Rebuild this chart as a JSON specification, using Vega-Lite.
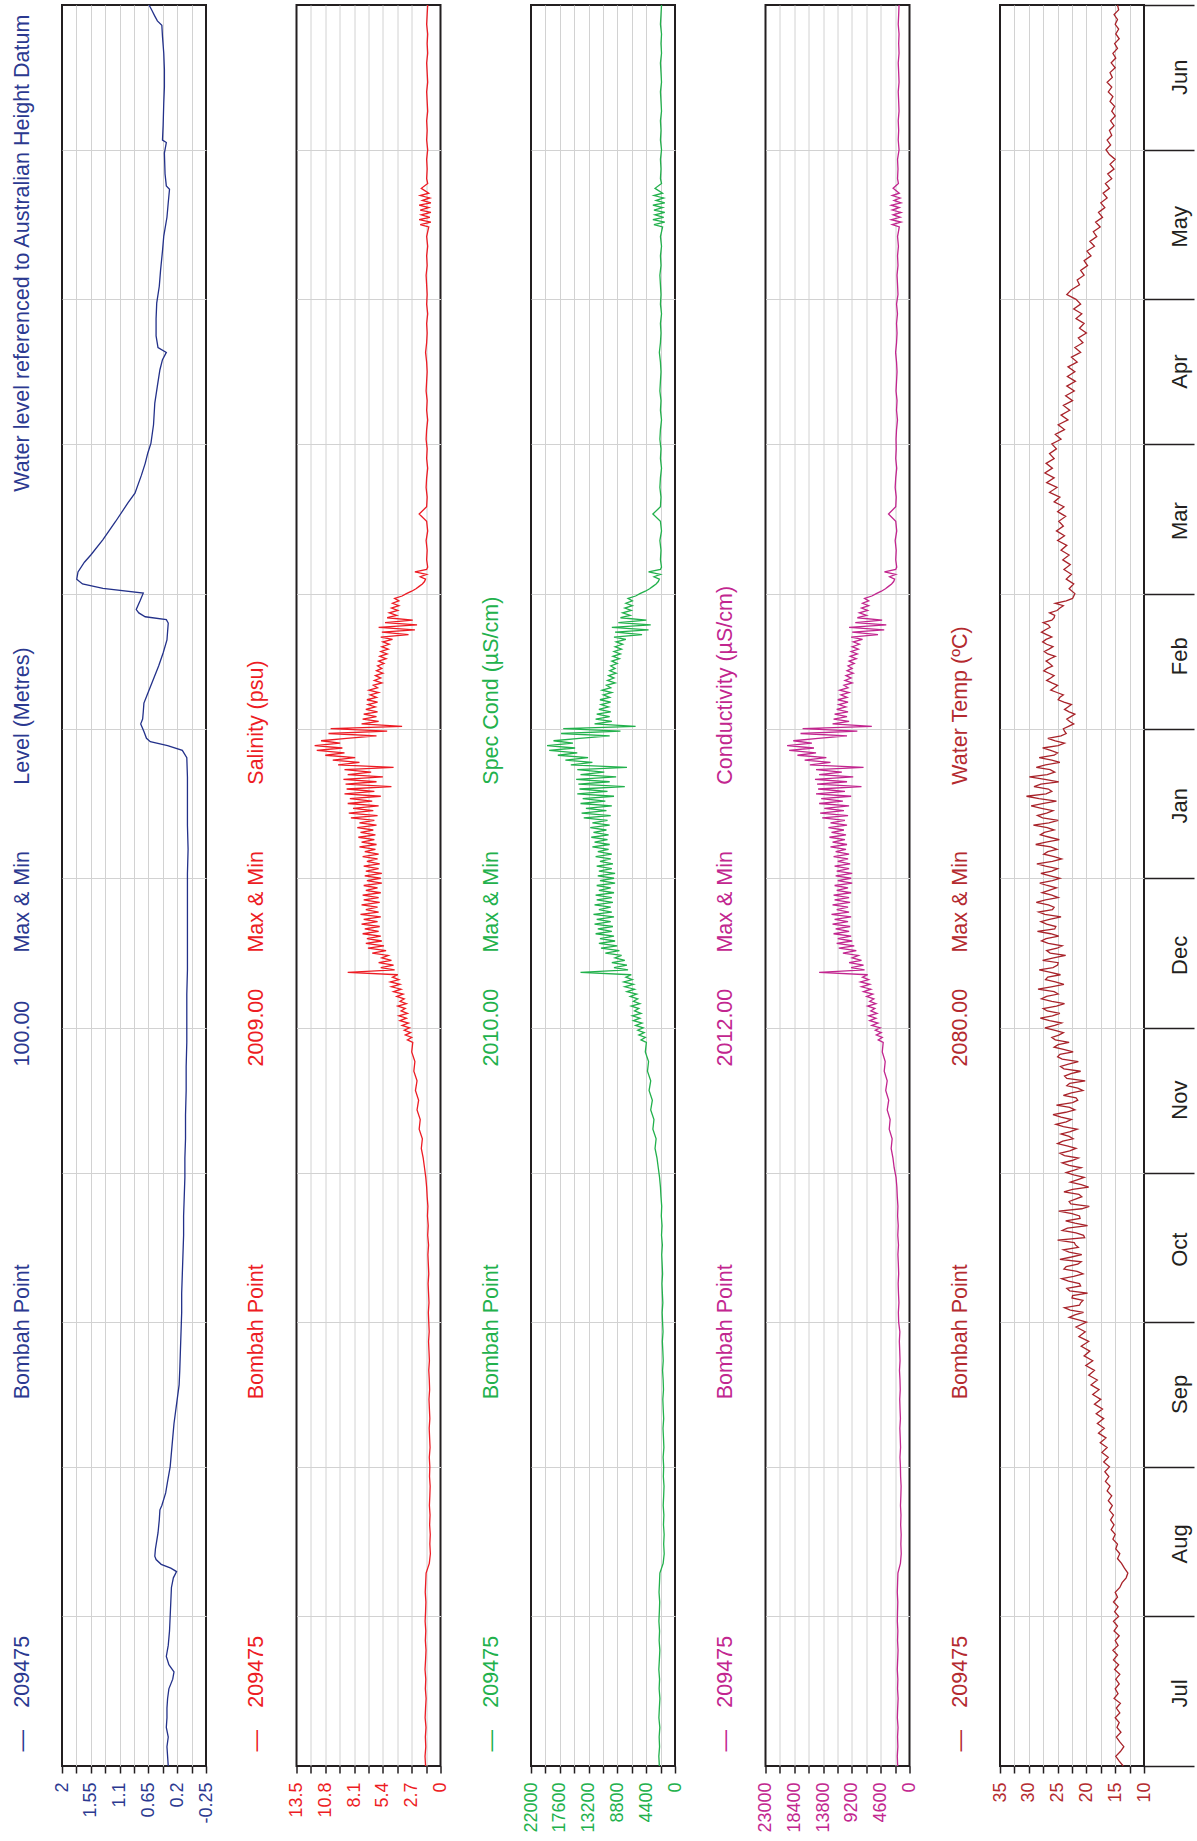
{
"$schema":"https://vega.github.io/schema/vega-lite/v6.json",
"padding":{"left":9,"top":1,"right":0,"bottom":0},
"background":"white",
"config":{"font":"Liberation Sans","view":{"stroke":"#231f20","strokeWidth":2},"axis":{"labelOverlap":false}},
"datasets":{
"lv":[{"d":0,"v":0.34},{"d":2,"v":0.35},{"d":4,"v":0.36},{"d":6,"v":0.34},{"d":8,"v":0.37},{"d":10,"v":0.36},{"d":12,"v":0.36},{"d":14,"v":0.35},{"d":16,"v":0.33},{"d":18,"v":0.27},{"d":19.5,"v":0.25},{"d":21,"v":0.33},{"d":22.7,"v":0.37},{"d":25,"v":0.34},{"d":28,"v":0.32},{"d":31,"v":0.31},{"d":34,"v":0.3},{"d":37,"v":0.29},{"d":39,"v":0.26},{"d":40.3,"v":0.21},{"d":41,"v":0.3},{"d":41.8,"v":0.45},{"d":42.8,"v":0.53},{"d":43.5,"v":0.55},{"d":45,"v":0.54},{"d":48.3,"v":0.5},{"d":51,"v":0.48},{"d":53.1,"v":0.47},{"d":54,"v":0.44},{"d":56.6,"v":0.38},{"d":59,"v":0.35},{"d":62,"v":0.31},{"d":65,"v":0.29},{"d":68,"v":0.27},{"d":71,"v":0.25},{"d":75,"v":0.21},{"d":79,"v":0.17},{"d":82,"v":0.16},{"d":86,"v":0.15},{"d":90,"v":0.14},{"d":94,"v":0.13},{"d":98,"v":0.13},{"d":102,"v":0.12},{"d":106,"v":0.11},{"d":110,"v":0.1},{"d":114,"v":0.1},{"d":118,"v":0.09},{"d":122,"v":0.08},{"d":126,"v":0.08},{"d":130,"v":0.07},{"d":135,"v":0.07},{"d":140,"v":0.06},{"d":145,"v":0.06},{"d":150,"v":0.05},{"d":155,"v":0.05},{"d":160,"v":0.05},{"d":165,"v":0.04},{"d":170,"v":0.04},{"d":175,"v":0.04},{"d":180,"v":0.04},{"d":185,"v":0.04},{"d":190,"v":0.03},{"d":195,"v":0.04},{"d":200,"v":0.04},{"d":205,"v":0.04},{"d":209,"v":0.05},{"d":210.5,"v":0.12},{"d":211.5,"v":0.35},{"d":212.3,"v":0.62},{"d":213,"v":0.68},{"d":214.4,"v":0.72},{"d":216,"v":0.77},{"d":217,"v":0.74},{"d":218.5,"v":0.73},{"d":220.3,"v":0.72},{"d":222,"v":0.67},{"d":225,"v":0.58},{"d":228,"v":0.49},{"d":230.7,"v":0.42},{"d":233.4,"v":0.36},{"d":236.9,"v":0.34},{"d":237.6,"v":0.37},{"d":238.2,"v":0.7},{"d":239,"v":0.8},{"d":239.7,"v":0.84},{"d":241.5,"v":0.78},{"d":243.1,"v":0.73},{"d":244.1,"v":1.36},{"d":245,"v":1.68},{"d":246,"v":1.77},{"d":247.5,"v":1.75},{"d":249.5,"v":1.65},{"d":251,"v":1.55},{"d":254.2,"v":1.36},{"d":258,"v":1.16},{"d":261.8,"v":0.97},{"d":263.8,"v":0.86},{"d":267.5,"v":0.76},{"d":270,"v":0.7},{"d":272.1,"v":0.66},{"d":274.2,"v":0.61},{"d":278,"v":0.57},{"d":282.5,"v":0.55},{"d":286,"v":0.51},{"d":289.4,"v":0.47},{"d":291.5,"v":0.43},{"d":293,"v":0.37},{"d":294,"v":0.5},{"d":296.4,"v":0.53},{"d":300,"v":0.53},{"d":303.2,"v":0.52},{"d":306.7,"v":0.48},{"d":310,"v":0.46},{"d":314,"v":0.43},{"d":317.1,"v":0.41},{"d":321,"v":0.36},{"d":324,"v":0.34},{"d":326.8,"v":0.32},{"d":327.5,"v":0.37},{"d":330,"v":0.39},{"d":334.3,"v":0.4},{"d":336.5,"v":0.37},{"d":337,"v":0.43},{"d":340,"v":0.42},{"d":344.7,"v":0.41},{"d":348,"v":0.4},{"d":351.6,"v":0.4},{"d":355,"v":0.41},{"d":358.5,"v":0.43},{"d":360.8,"v":0.44},{"d":361.7,"v":0.51},{"d":362.7,"v":0.55},{"d":364,"v":0.6},{"d":365,"v":0.64}],
"q":[{"d":0,"s":1.4,"c":2390,"k":1890},{"d":2,"s":1.45,"c":2470,"k":1950},{"d":4,"s":1.38,"c":2360,"k":1860},{"d":6,"s":1.42,"c":2420,"k":1910},{"d":8,"s":1.36,"c":2320,"k":1830},{"d":10,"s":1.44,"c":2460,"k":1940},{"d":12,"s":1.4,"c":2390,"k":1890},{"d":14,"s":1.35,"c":2310,"k":1820},{"d":16,"s":1.42,"c":2420,"k":1910},{"d":18,"s":1.38,"c":2360,"k":1860},{"d":20,"s":1.45,"c":2470,"k":1950},{"d":22,"s":1.4,"c":2390,"k":1890},{"d":24,"s":1.36,"c":2320,"k":1830},{"d":26,"s":1.42,"c":2420,"k":1910},{"d":28,"s":1.38,"c":2360,"k":1860},{"d":30,"s":1.44,"c":2460,"k":1940},{"d":32,"s":1.4,"c":2390,"k":1910},{"d":34,"s":1.37,"c":2340,"k":1870},{"d":36,"s":1.43,"c":2440,"k":1950},{"d":38,"s":1.39,"c":2370,"k":1900},{"d":40,"s":1.35,"c":2310,"k":1850},{"d":42,"s":1.05,"c":1810,"k":1450},{"d":44,"s":0.95,"c":1650,"k":1320},{"d":46,"s":1.0,"c":1730,"k":1380},{"d":48,"s":0.96,"c":1660,"k":1330},{"d":50,"s":1.02,"c":1760,"k":1410},{"d":52,"s":0.98,"c":1700,"k":1360},{"d":54,"s":1.04,"c":1800,"k":1440},{"d":56,"s":1.0,"c":1730,"k":1380},{"d":58,"s":0.97,"c":1680,"k":1340},{"d":60,"s":1.03,"c":1780,"k":1420},{"d":62,"s":1.0,"c":1730,"k":1450},{"d":64,"s":1.05,"c":1810,"k":1520},{"d":66,"s":0.98,"c":1700,"k":1430},{"d":68,"s":1.02,"c":1760,"k":1480},{"d":70,"s":1.06,"c":1830,"k":1540},{"d":72,"s":1.0,"c":1730,"k":1450},{"d":74,"s":1.04,"c":1800,"k":1510},{"d":76,"s":1.08,"c":1860,"k":1560},{"d":78,"s":1.02,"c":1760,"k":1480},{"d":80,"s":1.05,"c":1810,"k":1520},{"d":82,"s":1.1,"c":1900,"k":1600},{"d":84,"s":1.04,"c":1800,"k":1510},{"d":86,"s":1.08,"c":1860,"k":1560},{"d":88,"s":1.12,"c":1930,"k":1620},{"d":90,"s":1.06,"c":1830,"k":1540},{"d":92,"s":1.1,"c":1900,"k":1730},{"d":94,"s":1.14,"c":1960,"k":1780},{"d":96,"s":1.08,"c":1860,"k":1690},{"d":98,"s":1.12,"c":1930,"k":1760},{"d":100,"s":1.16,"c":1990,"k":1810},{"d":102,"s":1.1,"c":1900,"k":1730},{"d":104,"s":1.14,"c":1960,"k":1780},{"d":106,"s":1.18,"c":2030,"k":1850},{"d":108,"s":1.12,"c":1930,"k":1760},{"d":110,"s":1.2,"c":2060,"k":1870},{"d":112,"s":1.15,"c":1980,"k":1800},{"d":114,"s":1.22,"c":2090,"k":1900},{"d":116,"s":1.18,"c":2030,"k":1850},{"d":118,"s":1.25,"c":2140,"k":1950},{"d":120,"s":1.3,"c":2225,"k":2020},{"d":122,"s":1.38,"c":2360,"k":2150},{"d":124,"s":1.5,"c":2555,"k":2450},{"d":126,"s":1.62,"c":2750,"k":2640},{"d":128,"s":1.8,"c":3050,"k":2930},{"d":130,"s":1.7,"c":2885,"k":2770},{"d":132,"s":2.0,"c":3380,"k":3240},{"d":134,"s":1.9,"c":3215,"k":3090},{"d":136,"s":2.2,"c":3710,"k":3560},{"d":138,"s":2.05,"c":3460,"k":3320},{"d":140,"s":2.35,"c":3960,"k":3800},{"d":142,"s":2.2,"c":3710,"k":3560},{"d":144,"s":2.5,"c":4205,"k":4040},{"d":146,"s":2.4,"c":4040,"k":3880},{"d":148,"s":2.7,"c":4535,"k":4350},{"d":150,"s":2.6,"c":4370,"k":4200},
{"d":150.5,"s":3.1,"c":5195,"k":4990},{"d":151,"s":2.7,"c":4535,"k":4350},{"d":151.5,"s":3.3,"c":5525,"k":5300},{"d":152,"s":2.8,"c":4700,"k":4510},{"d":152.5,"s":3.4,"c":5690,"k":5460},{"d":153,"s":2.9,"c":4865,"k":4670},{"d":153.5,"s":3.6,"c":6020,"k":6020},{"d":154,"s":3.0,"c":5030,"k":5030},{"d":154.5,"s":3.8,"c":6350,"k":6350},{"d":155,"s":3.2,"c":5360,"k":5360},{"d":155.5,"s":3.9,"c":6515,"k":6515},{"d":156,"s":3.1,"c":5195,"k":5195},{"d":156.5,"s":3.7,"c":6185,"k":6185},{"d":157,"s":3.3,"c":5525,"k":5525},{"d":157.5,"s":4.0,"c":6680,"k":6680},{"d":158,"s":3.2,"c":5360,"k":5360},{"d":158.5,"s":3.8,"c":6350,"k":6350},{"d":159,"s":3.4,"c":5690,"k":5690},{"d":159.5,"s":4.1,"c":6845,"k":6845},{"d":160,"s":3.5,"c":5855,"k":5855},{"d":160.5,"s":4.4,"c":7340,"k":7340},{"d":161,"s":3.7,"c":6185,"k":6185},{"d":161.5,"s":4.6,"c":7670,"k":7670},{"d":162,"s":3.8,"c":6350,"k":6350},{"d":162.5,"s":4.7,"c":7835,"k":7835},{"d":163,"s":3.9,"c":6515,"k":6515},{"d":163.5,"s":4.5,"c":7505,"k":7505},{"d":164,"s":4.0,"c":6680,"k":6680},{"d":164.5,"s":8.7,"c":14435,"k":14435},{"d":165,"s":4.3,"c":7175,"k":7175},{"d":165.5,"s":5.6,"c":9320,"k":9320},{"d":166,"s":4.4,"c":7340,"k":7340},{"d":166.5,"s":5.8,"c":9650,"k":9650},{"d":167,"s":4.6,"c":7670,"k":7670},{"d":167.5,"s":5.5,"c":9155,"k":9155},{"d":168,"s":4.9,"c":8165,"k":8165},{"d":168.5,"s":6.4,"c":10640,"k":10640},{"d":169,"s":5.1,"c":8495,"k":8495},{"d":169.5,"s":6.8,"c":11300,"k":11300},{"d":170,"s":5.3,"c":8825,"k":8825},{"d":170.5,"s":7.0,"c":11630,"k":11630},{"d":171,"s":5.5,"c":9155,"k":9155},{"d":171.5,"s":6.9,"c":11465,"k":11465},{"d":172,"s":5.6,"c":9320,"k":9320},{"d":172.5,"s":7.3,"c":12125,"k":12125},{"d":173,"s":5.8,"c":9650,"k":9650},{"d":173.5,"s":7.1,"c":11795,"k":11795},{"d":174,"s":5.7,"c":9485,"k":9485},{"d":174.5,"s":7.4,"c":12290,"k":12290},{"d":175,"s":5.9,"c":9815,"k":9815},{"d":175.5,"s":7.2,"c":11960,"k":11960},{"d":176,"s":5.6,"c":9320,"k":9320},{"d":176.5,"s":7.5,"c":12455,"k":12455},{"d":177,"s":5.8,"c":9650,"k":9650},{"d":177.5,"s":7.0,"c":11630,"k":11630},{"d":178,"s":5.9,"c":9815,"k":9815},{"d":178.5,"s":7.4,"c":12290,"k":12290},{"d":179,"s":5.7,"c":9485,"k":9485},{"d":179.5,"s":7.2,"c":11960,"k":11960},{"d":180,"s":5.8,"c":9650,"k":9650},{"d":180.5,"s":7.3,"c":12125,"k":12125},{"d":181,"s":5.6,"c":9320,"k":9320},{"d":181.5,"s":7.0,"c":11630,"k":11630},{"d":182,"s":5.9,"c":9815,"k":9815},{"d":182.5,"s":7.2,"c":11960,"k":11960},{"d":183,"s":5.5,"c":9155,"k":9155},{"d":183.5,"s":6.9,"c":11465,"k":11465},{"d":184,"s":5.6,"c":9320,"k":9320},{"d":184.5,"s":7.1,"c":11795,"k":11795},{"d":185,"s":5.5,"c":9155,"k":9155},{"d":185.5,"s":7.0,"c":11630,"k":11630},{"d":186,"s":5.8,"c":9650,"k":9650},{"d":186.5,"s":7.2,"c":11960,"k":11960},{"d":187,"s":5.7,"c":9485,"k":9485},{"d":187.5,"s":6.9,"c":11465,"k":11465},{"d":188,"s":5.9,"c":9815,"k":9815},{"d":188.5,"s":7.3,"c":12125,"k":12125},{"d":189,"s":5.8,"c":9650,"k":9650},{"d":189.5,"s":7.1,"c":11795,"k":11795},{"d":190,"s":6.1,"c":10145,"k":10145},{"d":190.5,"s":7.6,"c":12620,"k":12620},{"d":191,"s":6.0,"c":9980,"k":9980},{"d":191.5,"s":7.4,"c":12290,"k":12290},{"d":192,"s":6.2,"c":10310,"k":10310},{"d":192.5,"s":7.7,"c":12785,"k":12785},{"d":193,"s":6.1,"c":10145,"k":10145},{"d":193.5,"s":7.5,"c":12455,"k":12455},{"d":194,"s":6.3,"c":10475,"k":10475},{"d":194.5,"s":7.8,"c":12950,"k":12950},{"d":195,"s":6.0,"c":9980,"k":9980},{"d":195.5,"s":7.6,"c":12620,"k":12620},{"d":196,"s":6.2,"c":10310,"k":10310},{"d":196.5,"s":8.4,"c":13940,"k":13940},{"d":197,"s":5.9,"c":9815,"k":9815},{"d":197.5,"s":8.6,"c":14270,"k":14270},{"d":198,"s":6.3,"c":10475,"k":10475},{"d":198.5,"s":8.2,"c":13610,"k":13610},{"d":199,"s":5.8,"c":9650,"k":9650},{"d":199.5,"s":8.7,"c":14435,"k":14435},{"d":200,"s":6.4,"c":10640,"k":10640},{"d":200.5,"s":8.5,"c":14105,"k":14105},{"d":201,"s":5.6,"c":9320,"k":9320},{"d":201.5,"s":9.0,"c":14930,"k":14930},{"d":202,"s":6.2,"c":10310,"k":10310},{"d":202.5,"s":8.8,"c":14600,"k":14600},{"d":203,"s":4.6,"c":7670,"k":7670},{"d":203.5,"s":8.9,"c":14765,"k":14765},{"d":204,"s":6.0,"c":9980,"k":9980},{"d":204.5,"s":9.1,"c":15095,"k":15095},{"d":205,"s":5.4,"c":8990,"k":8990},{"d":205.5,"s":8.7,"c":14435,"k":14435},{"d":206,"s":6.5,"c":10805,"k":10805},{"d":206.5,"s":9.0,"c":14930,"k":14930},{"d":207,"s":4.4,"c":7340,"k":7340},{"d":207.5,"s":9.6,"c":15920,"k":15920},{"d":208,"s":7.6,"c":12620,"k":12620},{"d":208.5,"s":10.1,"c":16745,"k":16745},{"d":209,"s":8.0,"c":13280,"k":13280},{"d":209.5,"s":10.8,"c":17900,"k":17900},{"d":210,"s":9.0,"c":14930,"k":14930},{"d":210.5,"s":11.6,"c":19220,"k":19220},{"d":211,"s":9.2,"c":15260,"k":15260},{"d":211.5,"s":11.8,"c":19550,"k":19550},{"d":212,"s":9.4,"c":15590,"k":15590},{"d":212.5,"s":11.2,"c":18560,"k":18560},{"d":213,"s":8.8,"c":14600,"k":14600},{"d":213.5,"s":6.0,"c":9980,"k":9980},{"d":214,"s":10.5,"c":17405,"k":17405},{"d":214.5,"s":5.0,"c":8330,"k":8330},{"d":215,"s":10.3,"c":17075,"k":17075},{"d":215.5,"s":3.6,"c":6020,"k":6020},{"d":216,"s":7.4,"c":12290,"k":12290},{"d":216.5,"s":5.8,"c":9650,"k":9650},{"d":217,"s":7.3,"c":12125,"k":12125},{"d":217.5,"s":6.0,"c":9980,"k":9980},{"d":218,"s":7.2,"c":11960,"k":11960},{"d":218.5,"s":5.9,"c":9815,"k":9815},{"d":219,"s":7.0,"c":11630,"k":11630},{"d":219.5,"s":6.1,"c":10145,"k":10145},{"d":220,"s":6.8,"c":11300,"k":11300},{"d":220.5,"s":5.9,"c":9815,"k":9815},{"d":221,"s":6.9,"c":11465,"k":11465},{"d":221.5,"s":6.0,"c":9980,"k":9980},{"d":222,"s":6.6,"c":10970,"k":10970},{"d":222.5,"s":5.8,"c":9650,"k":9650},{"d":223,"s":6.7,"c":11135,"k":11135},{"d":223.5,"s":5.9,"c":9815,"k":9815},{"d":224,"s":6.3,"c":10475,"k":10475},{"d":224.5,"s":5.5,"c":9155,"k":9155},{"d":225,"s":6.2,"c":10310,"k":10310},{"d":225.5,"s":5.6,"c":9320,"k":9320},{"d":226,"s":6.1,"c":10145,"k":10145},{"d":226.5,"s":5.4,"c":8990,"k":8990},{"d":227,"s":6.0,"c":9980,"k":9980},{"d":227.5,"s":5.5,"c":9155,"k":9155},{"d":228,"s":5.9,"c":9815,"k":9815},{"d":228.5,"s":5.3,"c":8825,"k":8825},{"d":229,"s":5.8,"c":9650,"k":9650},{"d":229.5,"s":5.1,"c":8495,"k":8495},{"d":230,"s":5.7,"c":9485,"k":9485},{"d":230.5,"s":5.0,"c":8330,"k":8330},{"d":231,"s":5.6,"c":9320,"k":9320},{"d":231.5,"s":4.9,"c":8165,"k":8165},{"d":232,"s":5.5,"c":9155,"k":9155},{"d":232.5,"s":4.8,"c":8000,"k":8000},{"d":233,"s":5.4,"c":8990,"k":8990},{"d":233.5,"s":4.5,"c":7505,"k":7505},{"d":234,"s":5.6,"c":9320,"k":9320},{"d":234.5,"s":3.0,"c":5030,"k":5030},{"d":235,"s":5.5,"c":9155,"k":9155},{"d":235.5,"s":2.4,"c":4040,"k":4040},{"d":236,"s":5.8,"c":9650,"k":9650},{"d":236.5,"s":2.2,"c":3710,"k":3710},{"d":237,"s":5.2,"c":8660,"k":8660},{"d":237.5,"s":2.6,"c":4370,"k":4370},{"d":238,"s":5.0,"c":8330,"k":8330},{"d":238.5,"s":4.1,"c":6845,"k":6845},{"d":239,"s":4.8,"c":8000,"k":8000},{"d":239.5,"s":4.0,"c":6680,"k":6680},{"d":240,"s":4.6,"c":7670,"k":7670},{"d":240.5,"s":3.9,"c":6515,"k":6515},{"d":241,"s":4.5,"c":7505,"k":7505},{"d":241.5,"s":3.9,"c":6515,"k":6515},{"d":242,"s":4.3,"c":7175,"k":7175},{"d":242.5,"s":3.6,"c":6020,"k":6020},{"d":243,"s":3.2,"c":5360,"k":5310},{"d":243.5,"s":2.7,"c":4535,"k":4490},{"d":244,"s":2.3,"c":3875,"k":3840},{"d":244.5,"s":2.0,"c":3380,"k":3350},{"d":245,"s":1.7,"c":2885,"k":2860},{"d":245.5,"s":1.5,"c":2555,"k":2530},{"d":246,"s":1.4,"c":2390,"k":2370},{"d":246.5,"s":1.9,"c":3215,"k":3180},{"d":247,"s":1.3,"c":2225,"k":2200},{"d":247.5,"s":2.4,"c":4040,"k":4000},{"d":248,"s":1.3,"c":2225,"k":2200},{"d":248.5,"s":1.2,"c":2060,"k":2040},
{"d":250,"s":1.3,"c":2225,"k":2200},{"d":252,"s":1.25,"c":2140,"k":2120},{"d":254,"s":1.35,"c":2310,"k":2290},{"d":256,"s":1.2,"c":2060,"k":2040},{"d":258,"s":1.3,"c":2225,"k":2200},{"d":259.5,"s":2.0,"c":3380,"k":3350},{"d":261,"s":1.3,"c":2225,"k":2200},{"d":263,"s":1.25,"c":2140,"k":2120},{"d":265,"s":1.35,"c":2310,"k":2290},{"d":267,"s":1.3,"c":2225,"k":2200},{"d":269,"s":1.2,"c":2060,"k":2040},{"d":271,"s":1.3,"c":2225,"k":2200},{"d":273,"s":1.25,"c":2140,"k":2120},{"d":275,"s":1.35,"c":2310,"k":2150},{"d":277,"s":1.3,"c":2225,"k":2070},{"d":279,"s":1.2,"c":2060,"k":1920},{"d":281,"s":1.3,"c":2225,"k":2070},{"d":283,"s":1.25,"c":2140,"k":1990},{"d":285,"s":1.35,"c":2310,"k":2150},{"d":287,"s":1.3,"c":2225,"k":2070},{"d":289,"s":1.25,"c":2140,"k":1990},{"d":291,"s":1.3,"c":2225,"k":2070},{"d":293,"s":1.4,"c":2390,"k":2220},{"d":295,"s":1.3,"c":2225,"k":2070},{"d":297,"s":1.25,"c":2140,"k":1990},{"d":299,"s":1.3,"c":2225,"k":2070},{"d":301,"s":1.2,"c":2060,"k":1920},{"d":303,"s":1.3,"c":2225,"k":2070},{"d":305,"s":1.25,"c":2140,"k":1840},{"d":307,"s":1.3,"c":2225,"k":1910},{"d":309,"s":1.35,"c":2310,"k":1990},{"d":311,"s":1.25,"c":2140,"k":1840},{"d":313,"s":1.3,"c":2225,"k":1910},{"d":315,"s":1.2,"c":2060,"k":1770},{"d":317,"s":1.3,"c":2225,"k":1910},{"d":319,"s":1.1,"c":1895,"k":1630},{"d":319.5,"s":1.9,"c":3215,"k":2760},{"d":320,"s":0.9,"c":1565,"k":1350},{"d":320.5,"s":2.0,"c":3380,"k":2910},{"d":321,"s":1.0,"c":1730,"k":1490},{"d":321.5,"s":1.8,"c":3050,"k":2620},{"d":322,"s":0.9,"c":1565,"k":1350},{"d":322.5,"s":1.9,"c":3215,"k":2760},{"d":323,"s":1.1,"c":1895,"k":1630},{"d":323.5,"s":2.0,"c":3380,"k":2910},{"d":324,"s":0.9,"c":1565,"k":1350},{"d":324.5,"s":1.7,"c":2885,"k":2480},{"d":325,"s":1.0,"c":1730,"k":1490},{"d":325.5,"s":1.9,"c":3215,"k":2760},{"d":326,"s":1.1,"c":1895,"k":1630},{"d":327,"s":1.8,"c":3050,"k":2620},{"d":328,"s":1.2,"c":2060,"k":1770},{"d":329,"s":1.3,"c":2225,"k":1910},{"d":331,"s":1.25,"c":2140,"k":1840},{"d":333,"s":1.3,"c":2225,"k":1910},{"d":335,"s":1.2,"c":2060,"k":1670},{"d":337,"s":1.3,"c":2225,"k":1800},{"d":339,"s":1.25,"c":2140,"k":1730},{"d":341,"s":1.3,"c":2225,"k":1800},{"d":343,"s":1.2,"c":2060,"k":1670},{"d":345,"s":1.25,"c":2140,"k":1730},{"d":347,"s":1.3,"c":2225,"k":1800},{"d":349,"s":1.2,"c":2060,"k":1670},{"d":351,"s":1.25,"c":2140,"k":1730},{"d":353,"s":1.3,"c":2225,"k":1800},{"d":355,"s":1.2,"c":2060,"k":1670},{"d":357,"s":1.25,"c":2140,"k":1730},{"d":359,"s":1.2,"c":2060,"k":1670},{"d":361,"s":1.3,"c":2225,"k":1800},{"d":363,"s":1.25,"c":2140,"k":1730},{"d":365,"s":1.2,"c":2060,"k":1670}],
"tp":[{"d":0,"v":13.6},{"d":1,"v":14.3},{"d":2,"v":14.9},{"d":3,"v":14.1},{"d":4,"v":13.5},{"d":5,"v":14.2},{"d":6,"v":14.8},{"d":7,"v":14.0},{"d":8,"v":14.7},{"d":9,"v":14.3},{"d":10,"v":15.0},{"d":11,"v":14.2},{"d":12,"v":14.8},{"d":13,"v":14.1},{"d":14,"v":15.2},{"d":15,"v":14.5},{"d":16,"v":15.0},{"d":17,"v":14.3},{"d":18,"v":14.9},{"d":19,"v":14.2},{"d":20,"v":15.1},{"d":21,"v":14.4},{"d":22,"v":15.3},{"d":23,"v":14.6},{"d":24,"v":15.4},{"d":25,"v":14.5},{"d":26,"v":15.0},{"d":27,"v":14.3},{"d":28,"v":15.2},{"d":29,"v":14.6},{"d":30,"v":15.3},{"d":31,"v":14.4},{"d":32,"v":15.1},{"d":33,"v":14.5},{"d":34,"v":15.3},{"d":35,"v":14.6},{"d":36,"v":15.0},{"d":37,"v":14.2},{"d":38,"v":13.8},{"d":39,"v":13.1},{"d":40,"v":12.8},{"d":41,"v":13.4},{"d":42,"v":13.9},{"d":43,"v":14.6},{"d":44,"v":14.2},{"d":45,"v":14.9},{"d":46,"v":14.6},{"d":47,"v":15.4},{"d":48,"v":15.0},{"d":49,"v":15.7},{"d":50,"v":15.2},{"d":51,"v":15.8},{"d":52,"v":15.3},{"d":53,"v":16.0},{"d":54,"v":15.5},{"d":55,"v":16.2},{"d":56,"v":15.6},{"d":57,"v":16.4},{"d":58,"v":15.9},{"d":59,"v":16.7},{"d":60,"v":16.1},{"d":61,"v":16.8},{"d":62,"v":16.0},{"d":63,"v":17.0},{"d":64,"v":16.2},{"d":65,"v":17.3},{"d":66,"v":16.4},{"d":67,"v":17.6},{"d":68,"v":16.6},{"d":69,"v":17.9},{"d":70,"v":16.9},{"d":71,"v":18.1},{"d":72,"v":17.0},{"d":73,"v":18.3},{"d":74,"v":17.2},{"d":75,"v":18.6},{"d":76,"v":17.5},{"d":77,"v":18.9},{"d":78,"v":17.8},{"d":79,"v":19.2},{"d":80,"v":18.1},{"d":81,"v":19.6},{"d":82,"v":18.6},{"d":83,"v":20.1},{"d":84,"v":18.9},{"d":85,"v":20.4},{"d":86,"v":19.4},{"d":87,"v":20.9},{"d":88,"v":19.6},{"d":89,"v":21.3},{"d":90,"v":20.2},{"d":91,"v":21.8},{"d":92,"v":20.0},{"d":93,"v":23.0},{"d":94,"v":20.5},{"d":95,"v":23.8},{"d":96,"v":21.0},{"d":97,"v":22.5},{"d":98,"v":19.8},{"d":99,"v":23.4},{"d":100,"v":21.2},{"d":101,"v":24.3},{"d":102,"v":20.6},{"d":103,"v":23.9},{"d":104,"v":21.5},{"d":105,"v":24.6},{"d":106,"v":20.8},{"d":107,"v":24.0},{"d":108,"v":21.9},{"d":109,"v":25.0},{"d":110,"v":20.5},{"d":111,"v":24.2},{"d":112,"v":19.8},{"d":113,"v":23.6},{"d":114,"v":21.2},{"d":115,"v":24.8},{"d":116,"v":19.5},{"d":117,"v":23.0},{"d":118,"v":20.8},{"d":119,"v":23.9},{"d":120,"v":19.6},{"d":121,"v":22.8},{"d":122,"v":20.4},{"d":123,"v":23.5},{"d":124,"v":20.9},{"d":125,"v":24.2},{"d":126,"v":21.4},{"d":127,"v":24.6},{"d":128,"v":21.8},{"d":129,"v":25.0},{"d":130,"v":22.3},{"d":131,"v":24.4},{"d":132,"v":21.6},{"d":133,"v":25.3},{"d":134,"v":22.6},{"d":135,"v":25.8},{"d":136,"v":22.0},{"d":137,"v":25.2},{"d":138,"v":21.5},{"d":139,"v":24.0},{"d":140,"v":20.6},{"d":141,"v":23.4},{"d":142,"v":20.2},{"d":143,"v":23.8},{"d":144,"v":21.0},{"d":145,"v":24.5},{"d":146,"v":21.4},{"d":147,"v":25.0},{"d":148,"v":22.3},{"d":149,"v":25.6},{"d":150,"v":23.0},{"d":151,"v":26.0},{"d":152,"v":24.0},{"d":153,"v":27.2},{"d":154,"v":24.3},{"d":155,"v":28.0},{"d":156,"v":24.6},{"d":157,"v":27.5},{"d":158,"v":23.8},{"d":159,"v":27.8},{"d":160,"v":24.9},{"d":161,"v":28.4},{"d":162,"v":23.9},{"d":163,"v":27.1},{"d":164,"v":24.5},{"d":165,"v":28.2},{"d":166,"v":25.0},{"d":167,"v":27.6},{"d":168,"v":23.6},{"d":169,"v":26.9},{"d":170,"v":24.2},{"d":171,"v":27.8},{"d":172,"v":24.8},{"d":173,"v":28.5},{"d":174,"v":25.3},{"d":175,"v":27.9},{"d":176,"v":24.4},{"d":177,"v":28.3},{"d":178,"v":25.6},{"d":179,"v":28.7},{"d":180,"v":24.9},{"d":181,"v":27.7},{"d":182,"v":25.2},{"d":183,"v":28.1},{"d":184,"v":24.6},{"d":185,"v":27.9},{"d":186,"v":25.0},{"d":187,"v":28.6},{"d":188,"v":24.3},{"d":189,"v":27.4},{"d":190,"v":25.1},{"d":191,"v":28.8},{"d":192,"v":24.7},{"d":193,"v":28.0},{"d":194,"v":25.6},{"d":195,"v":29.2},{"d":196,"v":24.9},{"d":197,"v":28.5},{"d":198,"v":25.8},{"d":199,"v":29.6},{"d":200,"v":25.2},{"d":201,"v":30.4},{"d":202,"v":26.0},{"d":203,"v":29.1},{"d":204,"v":24.8},{"d":205,"v":29.9},{"d":206,"v":25.5},{"d":207,"v":28.7},{"d":208,"v":24.6},{"d":209,"v":28.2},{"d":210,"v":25.0},{"d":211,"v":27.6},{"d":212,"v":23.8},{"d":213,"v":26.7},{"d":214,"v":23.5},{"d":215,"v":24.0},{"d":216,"v":22.2},{"d":217,"v":23.4},{"d":218,"v":22.0},{"d":219,"v":23.8},{"d":220,"v":22.6},{"d":221,"v":24.9},{"d":222,"v":24.0},{"d":223,"v":26.2},{"d":224,"v":25.0},{"d":225,"v":26.9},{"d":226,"v":25.6},{"d":227,"v":27.4},{"d":228,"v":25.9},{"d":229,"v":27.0},{"d":230,"v":25.4},{"d":231,"v":27.3},{"d":232,"v":25.8},{"d":233,"v":27.6},{"d":234,"v":26.0},{"d":235,"v":27.8},{"d":236,"v":26.3},{"d":237,"v":27.5},{"d":238,"v":25.6},{"d":239,"v":26.4},{"d":240,"v":24.6},{"d":241,"v":25.4},{"d":242,"v":22.4},{"d":243,"v":22.0},{"d":244,"v":23.0},{"d":245,"v":22.2},{"d":246,"v":23.5},{"d":247,"v":22.6},{"d":248,"v":23.9},{"d":249,"v":22.8},{"d":250,"v":24.1},{"d":251,"v":23.0},{"d":252,"v":24.4},{"d":253,"v":23.4},{"d":254,"v":25.0},{"d":255,"v":23.8},{"d":256,"v":25.2},{"d":257,"v":24.0},{"d":258,"v":24.8},{"d":259,"v":23.6},{"d":260,"v":25.0},{"d":261,"v":23.9},{"d":262,"v":25.6},{"d":263,"v":24.6},{"d":264,"v":26.4},{"d":265,"v":25.1},{"d":266,"v":26.9},{"d":267,"v":25.6},{"d":268,"v":27.2},{"d":269,"v":25.9},{"d":270,"v":27.0},{"d":271,"v":25.6},{"d":272,"v":26.4},{"d":273,"v":25.2},{"d":274,"v":26.0},{"d":275,"v":24.4},{"d":276,"v":25.4},{"d":277,"v":23.8},{"d":278,"v":24.9},{"d":279,"v":23.2},{"d":280,"v":24.4},{"d":281,"v":22.9},{"d":282,"v":24.0},{"d":283,"v":22.4},{"d":284,"v":23.6},{"d":285,"v":22.1},{"d":286,"v":23.4},{"d":287,"v":21.9},{"d":288,"v":23.3},{"d":289,"v":22.0},{"d":290,"v":23.2},{"d":291,"v":21.6},{"d":292,"v":22.6},{"d":293,"v":21.0},{"d":294,"v":22.0},{"d":295,"v":20.6},{"d":296,"v":21.4},{"d":297,"v":20.0},{"d":298,"v":21.2},{"d":299,"v":20.4},{"d":300,"v":21.8},{"d":301,"v":20.8},{"d":302,"v":22.2},{"d":303,"v":21.0},{"d":304,"v":21.8},{"d":305,"v":23.4},{"d":306,"v":22.6},{"d":307,"v":21.2},{"d":308,"v":21.6},{"d":309,"v":20.4},{"d":310,"v":21.0},{"d":311,"v":19.8},{"d":312,"v":20.4},{"d":313,"v":19.2},{"d":314,"v":19.9},{"d":315,"v":18.6},{"d":316,"v":19.4},{"d":317,"v":18.2},{"d":318,"v":18.8},{"d":319,"v":17.6},{"d":320,"v":18.4},{"d":321,"v":17.2},{"d":322,"v":17.9},{"d":323,"v":16.8},{"d":324,"v":17.5},{"d":325,"v":16.4},{"d":326,"v":17.1},{"d":327,"v":16.0},{"d":328,"v":16.7},{"d":329,"v":15.6},{"d":330,"v":16.3},{"d":331,"v":15.2},{"d":332,"v":15.9},{"d":333,"v":15.0},{"d":334,"v":16.0},{"d":335,"v":16.6},{"d":336,"v":15.8},{"d":337,"v":16.4},{"d":338,"v":15.6},{"d":339,"v":16.0},{"d":340,"v":15.2},{"d":341,"v":15.8},{"d":342,"v":15.0},{"d":343,"v":15.6},{"d":344,"v":15.1},{"d":345,"v":15.9},{"d":346,"v":15.4},{"d":347,"v":16.2},{"d":348,"v":15.6},{"d":349,"v":16.4},{"d":350,"v":15.5},{"d":351,"v":15.9},{"d":352,"v":15.0},{"d":353,"v":15.7},{"d":354,"v":14.9},{"d":355,"v":15.4},{"d":356,"v":14.6},{"d":357,"v":15.1},{"d":358,"v":14.3},{"d":359,"v":14.9},{"d":360,"v":14.4},{"d":361,"v":15.0},{"d":362,"v":14.6},{"d":363,"v":15.2},{"d":364,"v":14.4},{"d":365,"v":14.6},
{"d":92.5,"v":21.5},{"d":93.5,"v":22.0},{"d":94.5,"v":22.8},{"d":95.5,"v":21.2},{"d":96.5,"v":20.6},{"d":97.5,"v":22.4},{"d":98.5,"v":22.9},{"d":99.5,"v":21.0},{"d":100.5,"v":23.1},{"d":101.5,"v":22.2},{"d":102.5,"v":21.6},{"d":103.5,"v":23.5},{"d":104.5,"v":20.9},{"d":105.5,"v":22.6},{"d":106.5,"v":23.0},{"d":107.5,"v":21.4},{"d":108.5,"v":22.1},{"d":109.5,"v":20.3},{"d":110.5,"v":21.8},{"d":111.5,"v":23.3},{"d":112.5,"v":22.0},{"d":113.5,"v":21.1},{"d":114.5,"v":22.5},{"d":115.5,"v":20.8},{"d":116.5,"v":22.7},{"d":117.5,"v":21.9},{"d":118.5,"v":21.3},{"d":119.5,"v":22.4},{"d":120.5,"v":20.9},{"d":121.5,"v":21.6},{"d":122.5,"v":22.2},
{"d":123.5,"v":22.1},{"d":124.5,"v":23.0},{"d":125.5,"v":22.5},{"d":126.5,"v":23.8},{"d":127.5,"v":22.9},{"d":128.5,"v":23.2},{"d":129.5,"v":24.1},{"d":130.5,"v":23.0},{"d":131.5,"v":22.8},{"d":132.5,"v":24.0},{"d":133.5,"v":23.5},{"d":134.5,"v":24.4},{"d":135.5,"v":23.6},{"d":136.5,"v":22.9},{"d":137.5,"v":22.4},{"d":138.5,"v":21.8},{"d":139.5,"v":22.6},{"d":140.5,"v":21.5},{"d":141.5,"v":22.9},{"d":142.5,"v":23.4},{"d":143.5,"v":22.7},{"d":144.5,"v":23.9},{"d":145.5,"v":23.1},{"d":146.5,"v":24.2},{"d":147.5,"v":24.6},{"d":148.5,"v":23.8},{"d":149.5,"v":24.9},{"d":150.5,"v":25.4},{"d":151.5,"v":24.8},{"d":152.5,"v":25.6},
{"d":153.5,"v":25.5},{"d":154.5,"v":26.4},{"d":155.5,"v":25.9},{"d":156.5,"v":26.8},{"d":157.5,"v":25.2},{"d":158.5,"v":26.0},{"d":159.5,"v":26.9},{"d":160.5,"v":25.6},{"d":161.5,"v":26.1},{"d":162.5,"v":25.4},{"d":163.5,"v":26.7},{"d":164.5,"v":26.2},{"d":165.5,"v":25.8},{"d":166.5,"v":24.9},{"d":167.5,"v":25.7},{"d":168.5,"v":26.3},{"d":169.5,"v":25.1},{"d":170.5,"v":26.6},{"d":171.5,"v":27.0},{"d":172.5,"v":26.2},{"d":173.5,"v":25.5},{"d":174.5,"v":26.9},{"d":175.5,"v":26.4},{"d":176.5,"v":27.2},{"d":177.5,"v":25.9},{"d":178.5,"v":26.6},{"d":179.5,"v":27.1},{"d":180.5,"v":26.0},{"d":181.5,"v":26.5},{"d":182.5,"v":26.8},{"d":183.5,"v":25.9},
{"d":184.5,"v":26.3},{"d":185.5,"v":26.0},{"d":186.5,"v":27.1},{"d":187.5,"v":25.9},{"d":188.5,"v":25.6},{"d":189.5,"v":26.7},{"d":190.5,"v":26.2},{"d":191.5,"v":27.0},{"d":192.5,"v":26.4},{"d":193.5,"v":27.3},{"d":194.5,"v":26.8},{"d":195.5,"v":26.5},{"d":196.5,"v":27.6},{"d":197.5,"v":26.9},{"d":198.5,"v":27.8},{"d":199.5,"v":27.4},{"d":200.5,"v":28.2},{"d":201.5,"v":27.0},{"d":202.5,"v":26.6},{"d":203.5,"v":27.9},{"d":204.5,"v":27.2},{"d":205.5,"v":26.8},{"d":206.5,"v":26.3},{"d":207.5,"v":27.1},{"d":208.5,"v":26.0},{"d":209.5,"v":25.6},{"d":210.5,"v":26.2},{"d":211.5,"v":24.9},{"d":212.5,"v":25.4},{"d":213.5,"v":24.4},{"d":214.5,"v":23.8},
{"d":215.5,"v":23.1},{"d":216.5,"v":22.9},{"d":217.5,"v":22.7},{"d":218.5,"v":23.0},{"d":219.5,"v":23.2},{"d":220.5,"v":23.9},{"d":221.5,"v":24.6},{"d":222.5,"v":25.1},{"d":223.5,"v":25.6},{"d":224.5,"v":26.0},{"d":225.5,"v":26.2},{"d":226.5,"v":26.5},{"d":227.5,"v":26.8},{"d":228.5,"v":26.4},{"d":229.5,"v":26.3},{"d":230.5,"v":26.7},{"d":231.5,"v":26.5},{"d":232.5,"v":26.9},{"d":233.5,"v":27.0},{"d":234.5,"v":26.9},{"d":235.5,"v":27.1},{"d":236.5,"v":26.6},{"d":237.5,"v":26.0},{"d":238.5,"v":25.5},{"d":239.5,"v":25.1},{"d":240.5,"v":24.0},{"d":241.5,"v":23.5}]
},
"spacing":90.5,
"bounds":"flush",
"hconcat":[
{"width":144,"height":1761,"data":{"name":"lv"},
 "layer":[
  {"mark":{"type":"line","color":"#23318a","strokeWidth":1.3},
   "encoding":{
    "x":{"field":"v","type":"quantitative","scale":{"domain":[-0.25,2],"reverse":true,"nice":false,"zero":false},
     "axis":{"title":null,"orient":"bottom","tickCount":50,"values":[-0.25,-0.025,0.2,0.425,0.65,0.875,1.1,1.325,1.55,1.775,2],"labelExpr":"indexof([2,1.55,1.1,0.65,0.2,-0.25],datum.value)>=0?''+datum.value:''","labelColor":"#2b3990","grid":true,"gridColor":"#d2d2d2","gridOpacity":{"condition":{"test":"datum.value==2||datum.value==-0.25","value":0},"value":1},"ticks":true,"tickSize":7,"tickColor":"#231f20","tickWidth":1.5,"domain":false,"labelAngle":270,"labelFontSize":18,"labelPadding":9,"labelOverlap":false,"labelFlush":false,"labelBound":false}},
    "y":{"field":"d","type":"quantitative","scale":{"domain":[0,365],"nice":false,"zero":false},
     "axis":{"title":null,"orient":"right","tickCount":50,"values":[0,31,62,92,123,153,184,215,243,274,304,335,365],"grid":true,"gridColor":"#d2d2d2","gridOpacity":{"condition":{"test":"datum.value==0||datum.value==365","value":0},"value":1},"labels":false,"ticks":false,"domain":false}},
    "order":{"field":"d","type":"quantitative"}}},
  {"mark":{"type":"point","opacity":0},
   "encoding":{
    "x":{"field":"v","type":"quantitative","scale":{"domain":[-0.25,2],"reverse":true,"nice":false,"zero":false},"axis":{"tickCount":50}},
    "y":{"field":"d","type":"quantitative","scale":{"domain":[0,365],"nice":false,"zero":false},
     "axis":{"title":null,"orient":"left","tickCount":50,"values":[3.1,12.2,76.1,145.1,168.7,203.5,264.2],"labelExpr":"['—','209475','Bombah Point','100.00','Max & Min','Level (Metres)','Water level referenced to Australian Height Datum'][indexof([3.1,12.2,76.1,145.1,168.7,203.5,264.2],datum.value)]","grid":false,"ticks":false,"domain":false,"labelAngle":270,"labelAlign":"left","labelBaseline":"middle","labelPadding":40,"labelFontSize":21.5,"labelColor":"#2b3990","labelLimit":1000,"labelOverlap":false,"labelBound":false}}}}
 ],
 "resolve":{"axis":{"y":"independent"}}},
{"width":144,"height":1761,"data":{"name":"q"},
 "layer":[
  {"mark":{"type":"line","color":"#ed1c24","strokeWidth":1.3},
   "encoding":{
    "x":{"field":"s","type":"quantitative","scale":{"domain":[0,13.5],"reverse":true,"nice":false,"zero":false},
     "axis":{"title":null,"orient":"bottom","tickCount":50,"values":[0,1.35,2.7,4.05,5.4,6.75,8.1,9.45,10.8,12.15,13.5],"labelExpr":"indexof([0,2.7,5.4,8.1,10.8,13.5],datum.value)>=0?''+datum.value:''","labelColor":"#ed1c24","grid":true,"gridColor":"#d2d2d2","gridOpacity":{"condition":{"test":"datum.value==0||datum.value==13.5","value":0},"value":1},"ticks":true,"tickSize":7,"tickColor":"#231f20","tickWidth":1.5,"domain":false,"labelAngle":270,"labelFontSize":18,"labelPadding":9,"labelOverlap":false,"labelFlush":false,"labelBound":false}},
    "y":{"field":"d","type":"quantitative","scale":{"domain":[0,365],"nice":false,"zero":false},
     "axis":{"title":null,"orient":"right","tickCount":50,"values":[0,31,62,92,123,153,184,215,243,274,304,335,365],"grid":true,"gridColor":"#d2d2d2","gridOpacity":{"condition":{"test":"datum.value==0||datum.value==365","value":0},"value":1},"labels":false,"ticks":false,"domain":false}},
    "order":{"field":"d","type":"quantitative"}}},
  {"mark":{"type":"point","opacity":0},
   "encoding":{
    "x":{"field":"s","type":"quantitative","scale":{"domain":[0,13.5],"reverse":true,"nice":false,"zero":false},"axis":{"tickCount":50}},
    "y":{"field":"d","type":"quantitative","scale":{"domain":[0,365],"nice":false,"zero":false},
     "axis":{"title":null,"orient":"left","tickCount":50,"values":[3.1,12.2,76.1,145.1,168.7,203.5],"labelExpr":"['—','209475','Bombah Point','2009.00','Max & Min','Salinity (psu)'][indexof([3.1,12.2,76.1,145.1,168.7,203.5],datum.value)]","grid":false,"ticks":false,"domain":false,"labelAngle":270,"labelAlign":"left","labelBaseline":"middle","labelPadding":40,"labelFontSize":21.5,"labelColor":"#ed1c24","labelLimit":1000,"labelOverlap":false,"labelBound":false}}}}
 ],
 "resolve":{"axis":{"y":"independent"}}},
{"width":144,"height":1761,"data":{"name":"q"},
 "layer":[
  {"mark":{"type":"line","color":"#22b14c","strokeWidth":1.3},
   "encoding":{
    "x":{"field":"c","type":"quantitative","scale":{"domain":[0,22000],"reverse":true,"nice":false,"zero":false},
     "axis":{"title":null,"orient":"bottom","tickCount":50,"values":[0,2200,4400,6600,8800,11000,13200,15400,17600,19800,22000],"labelExpr":"indexof([0,4400,8800,13200,17600,22000],datum.value)>=0?''+datum.value:''","labelColor":"#22b14c","grid":true,"gridColor":"#d2d2d2","gridOpacity":{"condition":{"test":"datum.value==0||datum.value==22000","value":0},"value":1},"ticks":true,"tickSize":7,"tickColor":"#231f20","tickWidth":1.5,"domain":false,"labelAngle":270,"labelFontSize":18,"labelPadding":9,"labelOverlap":false,"labelFlush":false,"labelBound":false}},
    "y":{"field":"d","type":"quantitative","scale":{"domain":[0,365],"nice":false,"zero":false},
     "axis":{"title":null,"orient":"right","tickCount":50,"values":[0,31,62,92,123,153,184,215,243,274,304,335,365],"grid":true,"gridColor":"#d2d2d2","gridOpacity":{"condition":{"test":"datum.value==0||datum.value==365","value":0},"value":1},"labels":false,"ticks":false,"domain":false}},
    "order":{"field":"d","type":"quantitative"}}},
  {"mark":{"type":"point","opacity":0},
   "encoding":{
    "x":{"field":"c","type":"quantitative","scale":{"domain":[0,22000],"reverse":true,"nice":false,"zero":false},"axis":{"tickCount":50}},
    "y":{"field":"d","type":"quantitative","scale":{"domain":[0,365],"nice":false,"zero":false},
     "axis":{"title":null,"orient":"left","tickCount":50,"values":[3.1,12.2,76.1,145.1,168.7,203.5],"labelExpr":"['—','209475','Bombah Point','2010.00','Max & Min','Spec Cond (µS/cm)'][indexof([3.1,12.2,76.1,145.1,168.7,203.5],datum.value)]","grid":false,"ticks":false,"domain":false,"labelAngle":270,"labelAlign":"left","labelBaseline":"middle","labelPadding":40,"labelFontSize":21.5,"labelColor":"#22b14c","labelLimit":1000,"labelOverlap":false,"labelBound":false}}}}
 ],
 "resolve":{"axis":{"y":"independent"}}},
{"width":144,"height":1761,"data":{"name":"q"},
 "layer":[
  {"mark":{"type":"line","color":"#c2268f","strokeWidth":1.3},
   "encoding":{
    "x":{"field":"k","type":"quantitative","scale":{"domain":[0,23000],"reverse":true,"nice":false,"zero":false},
     "axis":{"title":null,"orient":"bottom","tickCount":50,"values":[0,2300,4600,6900,9200,11500,13800,16100,18400,20700,23000],"labelExpr":"indexof([0,4600,9200,13800,18400,23000],datum.value)>=0?''+datum.value:''","labelColor":"#c2268f","grid":true,"gridColor":"#d2d2d2","gridOpacity":{"condition":{"test":"datum.value==0||datum.value==23000","value":0},"value":1},"ticks":true,"tickSize":7,"tickColor":"#231f20","tickWidth":1.5,"domain":false,"labelAngle":270,"labelFontSize":18,"labelPadding":9,"labelOverlap":false,"labelFlush":false,"labelBound":false}},
    "y":{"field":"d","type":"quantitative","scale":{"domain":[0,365],"nice":false,"zero":false},
     "axis":{"title":null,"orient":"right","tickCount":50,"values":[0,31,62,92,123,153,184,215,243,274,304,335,365],"grid":true,"gridColor":"#d2d2d2","gridOpacity":{"condition":{"test":"datum.value==0||datum.value==365","value":0},"value":1},"labels":false,"ticks":false,"domain":false}},
    "order":{"field":"d","type":"quantitative"}}},
  {"mark":{"type":"point","opacity":0},
   "encoding":{
    "x":{"field":"k","type":"quantitative","scale":{"domain":[0,23000],"reverse":true,"nice":false,"zero":false},"axis":{"tickCount":50}},
    "y":{"field":"d","type":"quantitative","scale":{"domain":[0,365],"nice":false,"zero":false},
     "axis":{"title":null,"orient":"left","tickCount":50,"values":[3.1,12.2,76.1,145.1,168.7,203.5],"labelExpr":"['—','209475','Bombah Point','2012.00','Max & Min','Conductivity (µS/cm)'][indexof([3.1,12.2,76.1,145.1,168.7,203.5],datum.value)]","grid":false,"ticks":false,"domain":false,"labelAngle":270,"labelAlign":"left","labelBaseline":"middle","labelPadding":40,"labelFontSize":21.5,"labelColor":"#c2268f","labelLimit":1000,"labelOverlap":false,"labelBound":false}}}}
 ],
 "resolve":{"axis":{"y":"independent"}}},
{"width":144,"height":1761,"data":{"name":"tp"},
 "layer":[
  {"mark":{"type":"line","color":"#a8232a","strokeWidth":1.3},
   "encoding":{
    "x":{"field":"v","type":"quantitative","scale":{"domain":[10,35],"reverse":true,"nice":false,"zero":false},
     "axis":{"title":null,"orient":"bottom","tickCount":50,"values":[10,12.5,15,17.5,20,22.5,25,27.5,30,32.5,35],"labelExpr":"indexof([10,15,20,25,30,35],datum.value)>=0?''+datum.value:''","labelColor":"#b42a2f","grid":true,"gridColor":"#d2d2d2","gridOpacity":{"condition":{"test":"datum.value==10||datum.value==35","value":0},"value":1},"ticks":true,"tickSize":7,"tickColor":"#231f20","tickWidth":1.5,"domain":false,"labelAngle":270,"labelFontSize":18,"labelPadding":9,"labelOverlap":false,"labelFlush":false,"labelBound":false}},
    "y":{"field":"d","type":"quantitative","scale":{"domain":[0,365],"nice":false,"zero":false},
     "axis":{"title":null,"orient":"right","tickCount":50,"values":[0,31,62,92,123,153,184,215,243,274,304,335,365],"grid":true,"gridColor":"#d2d2d2","gridOpacity":{"condition":{"test":"datum.value==0||datum.value==365","value":0},"value":1},"labels":true,"labelExpr":"['Jul','Aug','Sep','Oct','Nov','Dec','Jan','Feb','Mar','Apr','May','Jun',''][indexof([0,31,62,92,123,153,184,215,243,274,304,335,365],datum.value)]","ticks":true,"tickSize":50,"tickColor":"#231f20","tickWidth":1.5,"domain":false,"labelAngle":270,"labelAlign":"center","labelBaseline":"middle","labelOffset":{"condition":{"test":"datum.value==365","value":30},"value":-73},"labelPadding":-15,"labelFontSize":22,"labelColor":"#231f20","labelOverlap":false,"labelBound":false}},
    "order":{"field":"d","type":"quantitative"}}},
  {"mark":{"type":"point","opacity":0},
   "encoding":{
    "x":{"field":"v","type":"quantitative","scale":{"domain":[10,35],"reverse":true,"nice":false,"zero":false},"axis":{"tickCount":50}},
    "y":{"field":"d","type":"quantitative","scale":{"domain":[0,365],"nice":false,"zero":false},
     "axis":{"title":null,"orient":"left","tickCount":50,"values":[3.1,12.2,76.1,145.1,168.7,203.5],"labelExpr":"['—','209475','Bombah Point','2080.00','Max & Min','Water Temp (ºC)'][indexof([3.1,12.2,76.1,145.1,168.7,203.5],datum.value)]","grid":false,"ticks":false,"domain":false,"labelAngle":270,"labelAlign":"left","labelBaseline":"middle","labelPadding":40,"labelFontSize":21.5,"labelColor":"#b42a2f","labelLimit":1000,"labelOverlap":false,"labelBound":false}}}}
 ],
 "resolve":{"axis":{"y":"independent"}}}
]
}
